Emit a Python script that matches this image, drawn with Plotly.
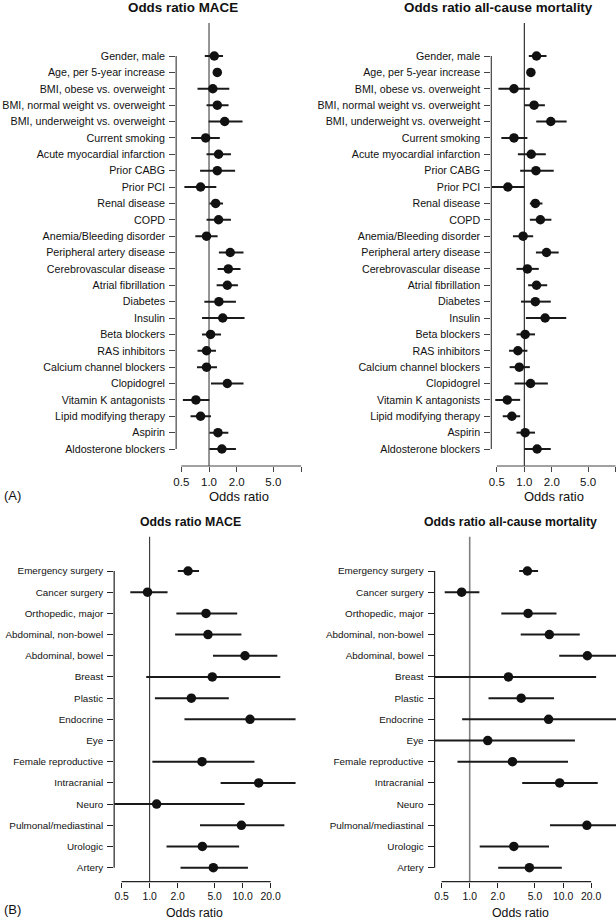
import plotly.graph_objects as go

W, H = 616, 919
FONT = "Liberation Sans, Arial, sans-serif"

# ---------------- data ----------------
cat_a = ["Gender, male", "Age, per 5-year increase", "BMI, obese vs. overweight",
         "BMI, normal weight vs. overweight", "BMI, underweight vs. overweight",
         "Current smoking", "Acute myocardial infarction", "Prior CABG", "Prior PCI",
         "Renal disease", "COPD", "Anemia/Bleeding disorder", "Peripheral artery disease",
         "Cerebrovascular disease", "Atrial fibrillation", "Diabetes", "Insulin",
         "Beta blockers", "RAS inhibitors", "Calcium channel blockers", "Clopidogrel",
         "Vitamin K antagonists", "Lipid modifying therapy", "Aspirin", "Aldosterone blockers"]

mace_a_or = [1.14, 1.23, 1.10, 1.23, 1.48, 0.92, 1.27, 1.23, 0.81, 1.18, 1.27, 0.94, 1.70,
             1.62, 1.58, 1.28, 1.41, 1.04, 0.94, 0.94, 1.58, 0.72, 0.81, 1.25, 1.38]
mace_a_lo = [0.90, 1.19, 0.75, 0.94, 0.99, 0.64, 0.94, 0.80, 0.54, 1.01, 0.94, 0.71, 1.28,
             1.24, 1.21, 0.89, 0.84, 0.84, 0.75, 0.74, 1.05, 0.52, 0.63, 1.01, 1.01]
mace_a_hi = [1.42, 1.27, 1.66, 1.63, 2.31, 1.31, 1.73, 1.92, 1.20, 1.42, 1.73, 1.24, 2.37,
             2.20, 2.06, 1.96, 2.43, 1.35, 1.19, 1.22, 2.37, 1.01, 1.05, 1.62, 1.96]

mort_a_or = [1.36, 1.18, 0.77, 1.28, 1.95, 0.77, 1.19, 1.34, 0.66, 1.32, 1.50, 0.97, 1.75,
             1.08, 1.36, 1.32, 1.69, 1.02, 0.85, 0.88, 1.17, 0.65, 0.73, 1.02, 1.38]
mort_a_lo = [1.12, 1.15, 0.52, 1.00, 1.35, 0.56, 0.85, 0.90, 0.44, 1.15, 1.15, 0.75, 1.34,
             0.82, 1.10, 0.92, 1.04, 0.82, 0.68, 0.69, 0.78, 0.48, 0.58, 0.82, 1.00]
mort_a_hi = [1.75, 1.21, 1.15, 1.68, 2.91, 1.08, 1.72, 2.10, 1.00, 1.58, 1.98, 1.25, 2.38,
             1.44, 1.78, 1.95, 2.88, 1.31, 1.08, 1.15, 1.81, 0.90, 0.90, 1.31, 1.95]

cat_b = ["Emergency surgery", "Cancer surgery", "Orthopedic, major", "Abdominal, non-bowel",
         "Abdominal, bowel", "Breast", "Plastic", "Endocrine", "Eye", "Female reproductive",
         "Intracranial", "Neuro", "Pulmonal/mediastinal", "Urologic", "Artery"]

mace_b_or = [2.59, 0.95, 4.04, 4.24, 10.6, 4.72, 2.81, 12.0, None, 3.66, 14.9, 1.19, 9.7, 3.69, 4.84]
mace_b_lo = [2.01, 0.62, 1.94, 1.88, 4.8, 0.92, 1.14, 2.37, None, 1.07, 5.8, 0.30, 3.48, 1.52, 2.15]
mace_b_hi = [3.40, 1.56, 8.74, 9.7, 23.6, 25.4, 7.1, 45.0, None, 13.4, 45.0, 10.5, 28.1, 9.17, 11.4]

mort_b_or = [4.15, 0.82, 4.22, 7.13, 18.2, 2.6, 3.56, 7.0, 1.56, 2.87, 9.2, None, 18.0, 2.97, 4.36]
mort_b_lo = [3.39, 0.54, 2.18, 3.52, 9.1, 0.30, 1.59, 0.83, 0.30, 0.74, 3.65, None, 7.25, 1.28, 2.02]
mort_b_hi = [5.4, 1.27, 8.5, 15.1, 45.0, 22.6, 8.0, 45.0, 13.4, 11.3, 23.5, None, 45.0, 7.07, 9.7]

ticks_a = [0.5, 1, 2, 5, 10]
ticklab_a = ["0.5", "1.0", "2.0", "5.0", ""]
ticks_b = [0.5, 1, 2, 5, 10, 20]
ticklab_b = ["0.5", "1.0", "2.0", "5.0", "10.0", "20.0"]

# ---------------- layout of panels (pixels) ----------------
panels = [
    dict(cats=cat_a, orv=mace_a_or, lo=mace_a_lo, hi=mace_a_hi, ticks=ticks_a, tlab=ticklab_a,
         xpx=(174, 305), ypx=(23, 466), xr=(-0.357, 1.059), row0=56, step=16.375,
         cfs=10.7, tfs=11.5, refc="#7a7a7a", refw=1.6, axc="#444"),
    dict(cats=cat_a, orv=mort_a_or, lo=mort_a_lo, hi=mort_a_hi, ticks=ticks_a, tlab=ticklab_a,
         xpx=(490.7, 616), ypx=(23, 466), xr=(-0.362, 1.005), row0=56, step=16.375,
         cfs=10.7, tfs=11.5, refc="#222", refw=1.1, axc="#444"),
    dict(cats=cat_b, orv=mace_b_or, lo=mace_b_lo, hi=mace_b_hi, ticks=ticks_b, tlab=ticklab_b,
         xpx=(111.7, 294), ypx=(536.7, 881.7), xr=(-0.381, 1.569), row0=571, step=21.19,
         cfs=9.9, tfs=10.4, refc="#333", refw=1.1, axc="#222"),
    dict(cats=cat_b, orv=mort_b_or, lo=mort_b_lo, hi=mort_b_hi, ticks=ticks_b, tlab=ticklab_b,
         xpx=(433.7, 616), ypx=(536.7, 881.7), xr=(-0.376, 1.567), row0=571, step=21.19,
         cfs=9.9, tfs=10.4, refc="#808080", refw=1.6, axc="#222"),
]

fig = go.Figure()
layout = dict(width=W, height=H, margin=dict(l=0, r=0, t=0, b=0),
              paper_bgcolor="white", plot_bgcolor="white", showlegend=False,
              font=dict(family=FONT, color="#111"))
shapes = []

for k, p in enumerate(panels, start=1):
    xa = "x" if k == 1 else f"x{k}"
    ya = "y" if k == 1 else f"y{k}"
    n = len(p["cats"])
    xs, ys, ep, em = [], [], [], []
    for i in range(n):
        if p["orv"][i] is None:
            continue
        xs.append(p["orv"][i])
        ys.append(i)
        ep.append(p["hi"][i] - p["orv"][i])
        em.append(p["orv"][i] - p["lo"][i])
    fig.add_trace(go.Scatter(
        x=xs, y=ys, mode="markers", xaxis=xa, yaxis=ya,
        marker=dict(size=9.5, color="#111", line=dict(width=0)),
        error_x=dict(type="data", symmetric=False, array=ep, arrayminus=em,
                     width=0, thickness=2, color="#1a1a1a"),
        hoverinfo="skip"))

    ytop = (p["ypx"][0] - p["row0"]) / p["step"]
    ybot = (p["ypx"][1] - p["row0"]) / p["step"]
    layout["xaxis" if k == 1 else f"xaxis{k}"] = dict(
        type="log", domain=[p["xpx"][0] / W, p["xpx"][1] / W], range=list(p["xr"]),
        anchor=ya, showgrid=False, zeroline=False, showline=False,
        tickmode="array", tickvals=p["ticks"], ticktext=p["tlab"],
        ticks="outside", ticklen=5, tickwidth=1, tickcolor=p["axc"],
        tickfont=dict(family=FONT, size=p["tfs"], color="#111"))
    layout["yaxis" if k == 1 else f"yaxis{k}"] = dict(
        domain=[1 - p["ypx"][1] / H, 1 - p["ypx"][0] / H], range=[ybot, ytop],
        anchor=xa, showgrid=False, zeroline=False, showline=False,
        tickmode="array", tickvals=list(range(n)), ticktext=p["cats"],
        ticks="outside", ticklen=6, tickwidth=1, tickcolor=p["axc"],
        ticklabelstandoff=2,
        tickfont=dict(family=FONT, size=p["cfs"], color="#111"))
    # reference line at OR = 1
    shapes.append(dict(type="line", xref=xa, yref=f"{ya} domain", x0=1, x1=1, y0=0, y1=1,
                       line=dict(color=p["refc"], width=p["refw"]), layer="below"))
    # detached x axis line (first to last tick)
    shapes.append(dict(type="line", xref=xa, yref=f"{ya} domain",
                       x0=p["ticks"][0], x1=p["ticks"][-1], y0=0, y1=0,
                       line=dict(color=p["axc"], width=1.2)))
    # detached y axis line (first to last category)
    shapes.append(dict(type="line", xref=f"{xa} domain", yref=ya,
                       x0=0, x1=0, y0=0, y1=n - 1,
                       line=dict(color=p["axc"], width=1.2)))

layout["shapes"] = shapes


def ann(text, xp, yp, size, bold=False):
    return dict(text=f"<b>{text}</b>" if bold else text, x=xp / W, y=1 - yp / H,
                xref="paper", yref="paper", xanchor="center", yanchor="middle",
                showarrow=False, font=dict(family=FONT, size=size, color="#111"))


layout["annotations"] = [
    ann("Odds ratio MACE", 181.3, 7.5, 13.4, True),
    ann("Odds ratio all-cause mortality", 498.3, 7.5, 13.4, True),
    ann("Odds ratio MACE", 188.8, 521.7, 12.3, True),
    ann("Odds ratio all-cause mortality", 510.2, 521.7, 12.3, True),
    ann("Odds ratio", 236.7, 496.7, 13),
    ann("Odds ratio", 553.5, 496.7, 13),
    ann("Odds ratio", 192.7, 912.5, 12.3),
    ann("Odds ratio", 519.8, 912.5, 12.3),
    ann("(A)", 10, 495, 13),
    ann("(B)", 10, 909.5, 13),
]

fig.update_layout(**layout)
fig.write_html("out.html", config={"displayModeBar": False, "staticPlot": True},
               post_script="document.body.style.margin='0';document.body.style.overflow='hidden';")
